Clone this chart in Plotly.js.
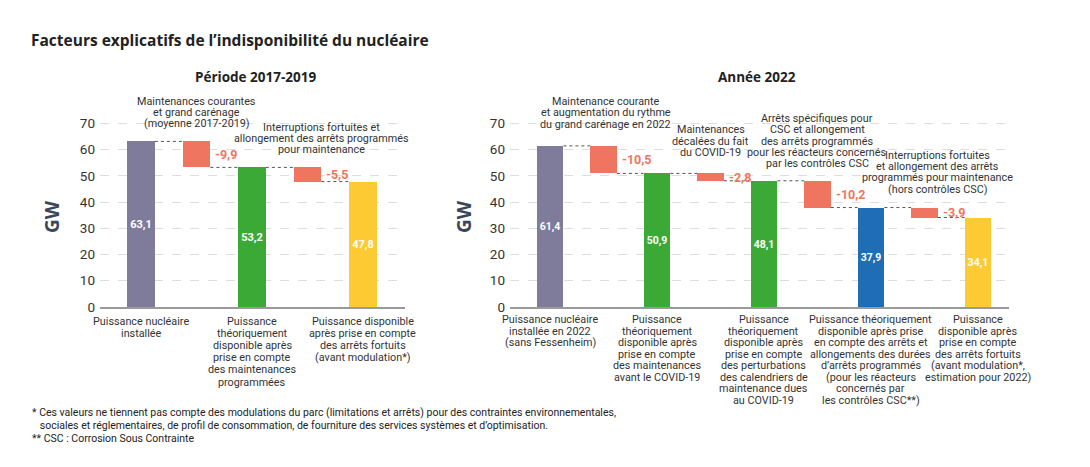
<!DOCTYPE html>
<html>
<head>
<meta charset="utf-8">
<script src="https://cdn.plot.ly/plotly-3.0.1.min.js"></script>
<style>
  body { margin: 0; background: #fff; }
  #chart { width: 1090px; height: 467px; }
</style>
</head>
<body>
<div id="chart"></div>
<script>
// Période 2017-2019
const leftTotals = [63.1, 53.2, 47.8];
const leftDeltas = [-9.9, -5.5];
const leftTotalLabels = [
  "Puissance nucléaire<br>installée",
  "Puissance<br>théoriquement<br>disponible après<br>prise en compte<br>des maintenances<br>programmées",
  "Puissance disponible<br>après prise en compte<br>des arrêts fortuits<br>(avant modulation*)"
];
const leftDeltaNotes = [
  "Maintenances courantes<br>et grand carénage<br>(moyenne 2017-2019)",
  "Interruptions fortuites et<br>allongement des arrêts programmés<br>pour maintenance"
];

// Année 2022
const rightTotals = [61.4, 50.9, 48.1, 37.9, 34.1];
const rightDeltas = [-10.5, -2.8, -10.2, -3.9];
const rightTotalLabels = [
  "Puissance nucléaire<br>installée en 2022<br>(sans Fessenheim)",
  "Puissance<br>théoriquement<br>disponible après<br>prise en compte<br>des maintenances<br>avant le COVID-19",
  "Puissance<br>théoriquement<br>disponible après<br>prise en compte<br>des perturbations<br>des calendriers de<br>maintenance dues<br>au COVID-19",
  "Puissance théoriquement<br>disponible après prise<br>en compte des arrêts et<br>allongements des durées<br>d’arrêts programmés<br>(pour les réacteurs<br>concernés par<br>les contrôles CSC**)",
  "Puissance<br>disponible après<br>prise en compte<br>des arrêts fortuits<br>(avant modulation*,<br>estimation pour 2022)"
];
const rightDeltaNotes = [
  "Maintenance courante<br>et augmentation du rythme<br>du grand carénage en 2022",
  "Maintenances<br>décalées du fait<br>du COVID-19",
  "Arrêts spécifiques pour<br>CSC et allongement<br>des arrêts programmés<br>pour les réacteurs concernés<br>par les contrôles CSC",
  "Interruptions fortuites<br>et allongement des arrêts<br>programmés pour maintenance<br>(hors contrôles CSC)"
];

const footnotes = [
  "* Ces valeurs ne tiennent pas compte des modulations du parc (limitations et arrêts) pour des contraintes environnementales,",
  "   sociales et réglementaires, de profil de consommation, de fourniture des services systèmes et d’optimisation.",
  "** CSC : Corrosion Sous Contrainte"
];

const leftColors = ["#7e7b9b", "#3aa935", "#fdca34"];
const rightColors = ["#7e7b9b", "#3aa935", "#3aa935", "#1f6db5", "#fdca34"];
const deltaColor = "#ef7560";

const W = 1090, H = 467;
const textFont = "Liberation Sans Narrow, Roboto, sans-serif";
const titleFont = "Open Sans, Lato, sans-serif";
const fmt = v => v.toFixed(1).replace(".", ",");

let data = [];
let annotations = [];

// opts : décalages des textes (px) propres à chaque graphique
const buildChart = (totals, deltas, colors, labels, notes, xa, ya, opts) => {
  let xs = [], ys = [], bases = [], cols = [], texts = [];
  let lx = [], ly = [];
  let n = totals.length + deltas.length;
  for (let i = 0; i < n; i++) {
    let k = Math.floor(i / 2);
    let level;
    if (i % 2 === 0) {
      xs.push(i); ys.push(totals[k]); bases.push(0);
      cols.push(colors[k]); texts.push(fmt(totals[k]));
      level = totals[k];
      // libellé sous l'axe, ligne par ligne
      labels[k].split("<br>").forEach((line, j) => {
        annotations.push({
          x: i, y: 0, xref: xa, yref: ya, text: line, showarrow: false,
          xanchor: "center", yanchor: "middle",
          yshift: -(opts.labelTop + j * opts.labelLine),
          font: { family: textFont, size: 10.8, color: "#333" }
        });
      });
    } else {
      let top = totals[k], bottom = totals[k + 1];
      xs.push(i); ys.push(top - bottom); bases.push(bottom);
      cols.push(deltaColor); texts.push("");
      level = bottom;
      // valeur négative à droite de la barre
      annotations.push({
        x: i + 0.25, y: (top + bottom) / 2, xref: xa, yref: ya,
        text: "<b>" + fmt(deltas[k]) + "</b>", showarrow: false,
        xanchor: "left", yanchor: "middle", xshift: 3,
        font: { family: textFont, size: 12.5, color: deltaColor }
      });
      // texte explicatif au-dessus, ligne par ligne
      let lines = notes[k].split("<br>");
      lines.forEach((line, j) => {
        annotations.push({
          x: i, y: top, xref: xa, yref: ya, text: line, showarrow: false,
          xanchor: "center", yanchor: "middle",
          xshift: opts.noteDx[k], yshift: opts.noteDy[k] + (lines.length - 1 - j) * 11.3,
          font: { family: textFont, size: 10.8, color: "#333" }
        });
      });
    }
    if (i < n - 1) {
      lx.push(i + 0.25, i + 0.75, null);
      ly.push(level, level, null);
    }
  }
  data.push({
    type: "bar", x: xs, y: ys, base: bases, width: 0.5,
    marker: { color: cols }, text: texts,
    textposition: "inside", insidetextanchor: "middle", textangle: 0,
    insidetextfont: { family: textFont, size: 12.5, color: "#fff", weight: "bold" },
    xaxis: xa, yaxis: ya, hoverinfo: "skip", showlegend: false
  });
  data.push({
    type: "scatter", mode: "lines", x: lx, y: ly,
    line: { color: "#555", width: 1, dash: "dot" },
    xaxis: xa, yaxis: ya, hoverinfo: "skip", showlegend: false
  });
};

buildChart(leftTotals, leftDeltas, leftColors, leftTotalLabels, leftDeltaNotes, "x", "y",
  { noteDx: [0, 13.5], noteDy: [17.7, 17.6], labelTop: 14, labelLine: 12.2 });
buildChart(rightTotals, rightDeltas, rightColors, rightTotalLabels, rightDeltaNotes, "x2", "y2",
  { noteDx: [2, 0, 0, 13], noteDy: [21.8, 21, 17, 18.4], labelTop: 12.5, labelLine: 11.5 });

const yDomain = [(H - 307) / H, (H - 307 + 72 * 183.7 / 70) / H];

const yAxis = (domain, anchor) => ({
  domain: domain, range: [0, 72], dtick: 10, tick0: 0, anchor: anchor,
  showgrid: true, gridcolor: "#dedede", griddash: "dash", gridwidth: 1,
  zeroline: false, showline: false, ticks: "",
  ticklabelstandoff: 4,
  tickfont: { family: "Roboto, sans-serif", size: 13.5, color: "#333" },
  fixedrange: true
});

const xAxis = (domain, range, anchor) => ({
  domain: domain, range: range, anchor: anchor,
  showticklabels: false, showgrid: false, zeroline: false,
  showline: true, linecolor: "#9a9a9a", linewidth: 1.5,
  ticks: "", fixedrange: true
});

const px = v => v / W;
const py = v => 1 - v / H;

annotations.push(
  { xref: "paper", yref: "paper", x: px(29), y: py(40), xanchor: "left", yanchor: "middle",
    text: "<b>Facteurs explicatifs de l’indisponibilité du nucléaire</b>", showarrow: false,
    font: { family: titleFont, size: 15.5, color: "#222" } },
  { xref: "paper", yref: "paper", x: px(255), y: py(77), xanchor: "center", yanchor: "middle",
    text: "<b>Période 2017-2019</b>", showarrow: false,
    font: { family: titleFont, size: 13.5, color: "#222" } },
  { xref: "paper", yref: "paper", x: px(757), y: py(77), xanchor: "center", yanchor: "middle",
    text: "<b>Année 2022</b>", showarrow: false,
    font: { family: titleFont, size: 13.5, color: "#222" } },
  { xref: "paper", yref: "paper", x: px(52), y: py(217), xanchor: "center", yanchor: "middle",
    text: "<b>GW</b>", textangle: -90, showarrow: false,
    font: { family: "Open Sans, sans-serif", size: 19, color: "#3b4656" } },
  { xref: "paper", yref: "paper", x: px(464), y: py(217), xanchor: "center", yanchor: "middle",
    text: "<b>GW</b>", textangle: -90, showarrow: false,
    font: { family: "Open Sans, sans-serif", size: 19, color: "#3b4656" } }
);

footnotes.forEach((line, j) => {
  annotations.push({
    xref: "paper", yref: "paper", x: px(30), y: py(412 + j * 13), xanchor: "left", yanchor: "middle",
    text: line.replace(/^ +/, m => "&nbsp;".repeat(m.length)), showarrow: false,
    font: { family: textFont, size: 10.5, color: "#222" }
  });
});

const layout = {
  width: W, height: H,
  margin: { l: 0, r: 0, t: 0, b: 0 },
  paper_bgcolor: "#fff", plot_bgcolor: "#fff",
  separators: ", ",
  bargap: 0,
  xaxis: xAxis([px(100), px(405)], [-0.739, 4.757], "y"),
  yaxis: yAxis(yDomain, "x"),
  xaxis2: xAxis([px(510), px(1009)], [-0.748, 8.58], "y2"),
  yaxis2: yAxis(yDomain, "x2"),
  annotations: annotations,
  showlegend: false
};

Plotly.newPlot("chart", data, layout, { displayModeBar: false, staticPlot: true });
</script>
</body>
</html>
